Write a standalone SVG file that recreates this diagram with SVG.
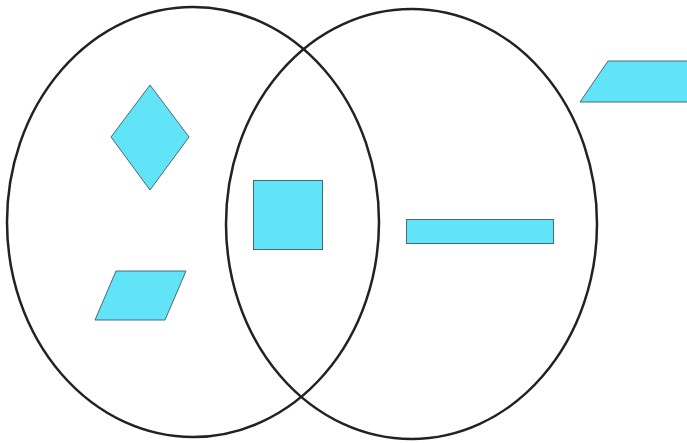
<svg xmlns="http://www.w3.org/2000/svg" width="687" height="443" viewBox="0 0 687 443">
<style>
.set{fill:none;stroke:#222;stroke-width:2.5}
.shape{fill:#62e4f8;stroke:#4a6a72;stroke-width:1}
</style>
<rect width="687" height="443" fill="#fff"/>
<g id="setA"><ellipse class="set" cx="193" cy="222" rx="186" ry="215"/></g>
<g id="setB"><ellipse class="set" cx="411.5" cy="224" rx="185.5" ry="215"/></g>
<g id="diamond"><polygon class="shape" points="150,85 189,137 150,190 111,137"/></g>
<g id="square"><rect class="shape" x="253.5" y="180.5" width="69" height="69"/></g>
<g id="bar"><rect class="shape" x="406.5" y="219.5" width="147" height="24"/></g>
<g id="para1"><polygon class="shape" points="116,271 186,271 165,320 95,320"/></g>
<g id="para2"><polygon class="shape" points="608,61 688,61 688,102 580,102"/></g>
</svg>
